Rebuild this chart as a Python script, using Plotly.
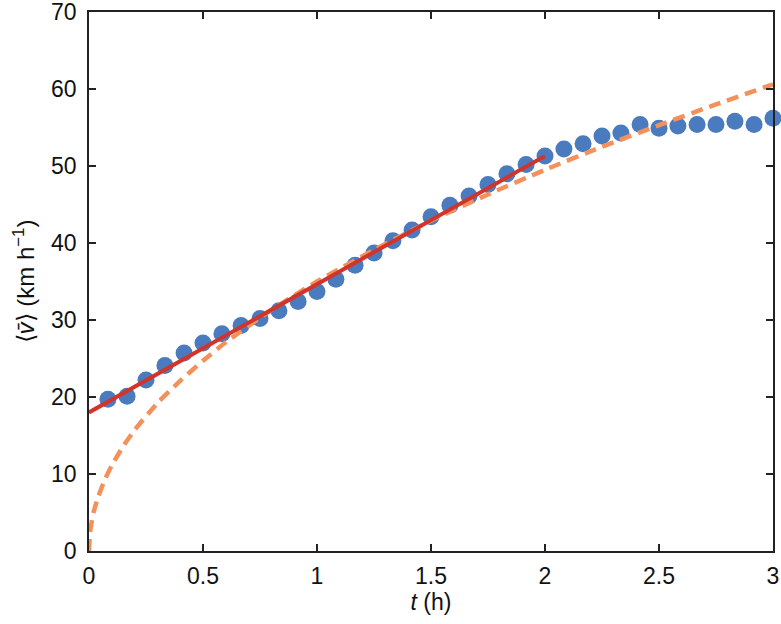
import plotly.graph_objects as go

# measured mean speed points
t_data = [0.083, 0.167, 0.25, 0.333, 0.417, 0.5, 0.583, 0.667, 0.75, 0.833, 0.917, 1.0,
          1.083, 1.167, 1.25, 1.333, 1.417, 1.5, 1.583, 1.667, 1.75, 1.833, 1.917, 2.0,
          2.083, 2.167, 2.25, 2.333, 2.417, 2.5, 2.583, 2.667, 2.75, 2.833, 2.917, 3.0]
v_data = [19.7, 20.1, 22.2, 24.1, 25.7, 27.0, 28.2, 29.3, 30.2, 31.2, 32.4, 33.7,
          35.3, 37.1, 38.7, 40.3, 41.7, 43.4, 44.9, 46.1, 47.6, 49.0, 50.2, 51.3,
          52.2, 52.9, 53.9, 54.3, 55.4, 54.9, 55.2, 55.4, 55.4, 55.8, 55.4, 56.2]

# linear fit (solid red)
t_lin = [0.0, 2.0]
v_lin = [18.0, 51.3]

# dashed curve
t_curve = [0.0, 0.005, 0.02, 0.04, 0.07, 0.1, 0.15, 0.2, 0.3, 0.4, 0.5, 0.6, 0.8, 1.0,
           1.25, 1.5, 1.75, 2.0, 2.25, 2.5, 2.75, 3.0]
v_curve = [0.0, 2.5, 5.0, 7.0, 9.3, 11.1, 13.6, 15.7, 19.2, 22.1, 24.7, 27.1, 31.3, 35.0,
           39.1, 42.9, 46.3, 49.5, 52.5, 55.3, 58.0, 60.6]

x_ticks = [0, 0.5, 1, 1.5, 2, 2.5, 3]
x_labels = ["0", "0.5", "1", "1.5", "2", "2.5", "3"]
y_ticks = [0, 10, 20, 30, 40, 50, 60, 70]

FONT = "Liberation Sans, Arial, sans-serif"

fig = go.Figure()
fig.add_trace(go.Scatter(x=t_data, y=v_data, mode="markers",
                         marker=dict(size=17, color="#4a7bbf", line=dict(width=0)),
                         showlegend=False, cliponaxis=False))
fig.add_trace(go.Scatter(x=t_curve, y=v_curve, mode="lines",
                         line=dict(color="#f4915b", width=4.5, dash="12px,7px", shape="spline", smoothing=0.6),
                         showlegend=False))
fig.add_trace(go.Scatter(x=t_lin, y=v_lin, mode="lines",
                         line=dict(color="#d1342b", width=4),
                         showlegend=False))

axis_common = dict(showgrid=False, zeroline=False, showline=True, linecolor="#222",
                   linewidth=1.5, ticks="inside", ticklen=7, tickwidth=1.5, tickcolor="#222",
                   mirror="ticks", automargin=False, ticklabeloverflow="allow",
                   tickfont=dict(family=FONT, size=23, color="#111"))

fig.update_xaxes(range=[0, 3], tickvals=x_ticks, ticktext=x_labels,
                 title=dict(text="<i>t</i> (h)", font=dict(family=FONT, size=23, color="#111"), standoff=2),
                 ticklabelstandoff=4,
                 **axis_common)
fig.update_yaxes(range=[0, 70], tickvals=y_ticks, ticklabelstandoff=6,
                 title=dict(text="⟨<i>v̄</i>⟩ (km h<sup>−1</sup>)", font=dict(family=FONT, size=24, color="#111"), standoff=10),
                 **axis_common)

fig.update_layout(width=781, height=624, margin=dict(l=89, r=8, t=12, b=73),
                  paper_bgcolor="white", plot_bgcolor="white")

fig.write_html("out.html", config={"displayModeBar": False},
               post_script="document.body.style.margin='0';document.body.style.padding='0';document.body.style.overflow='hidden';")
